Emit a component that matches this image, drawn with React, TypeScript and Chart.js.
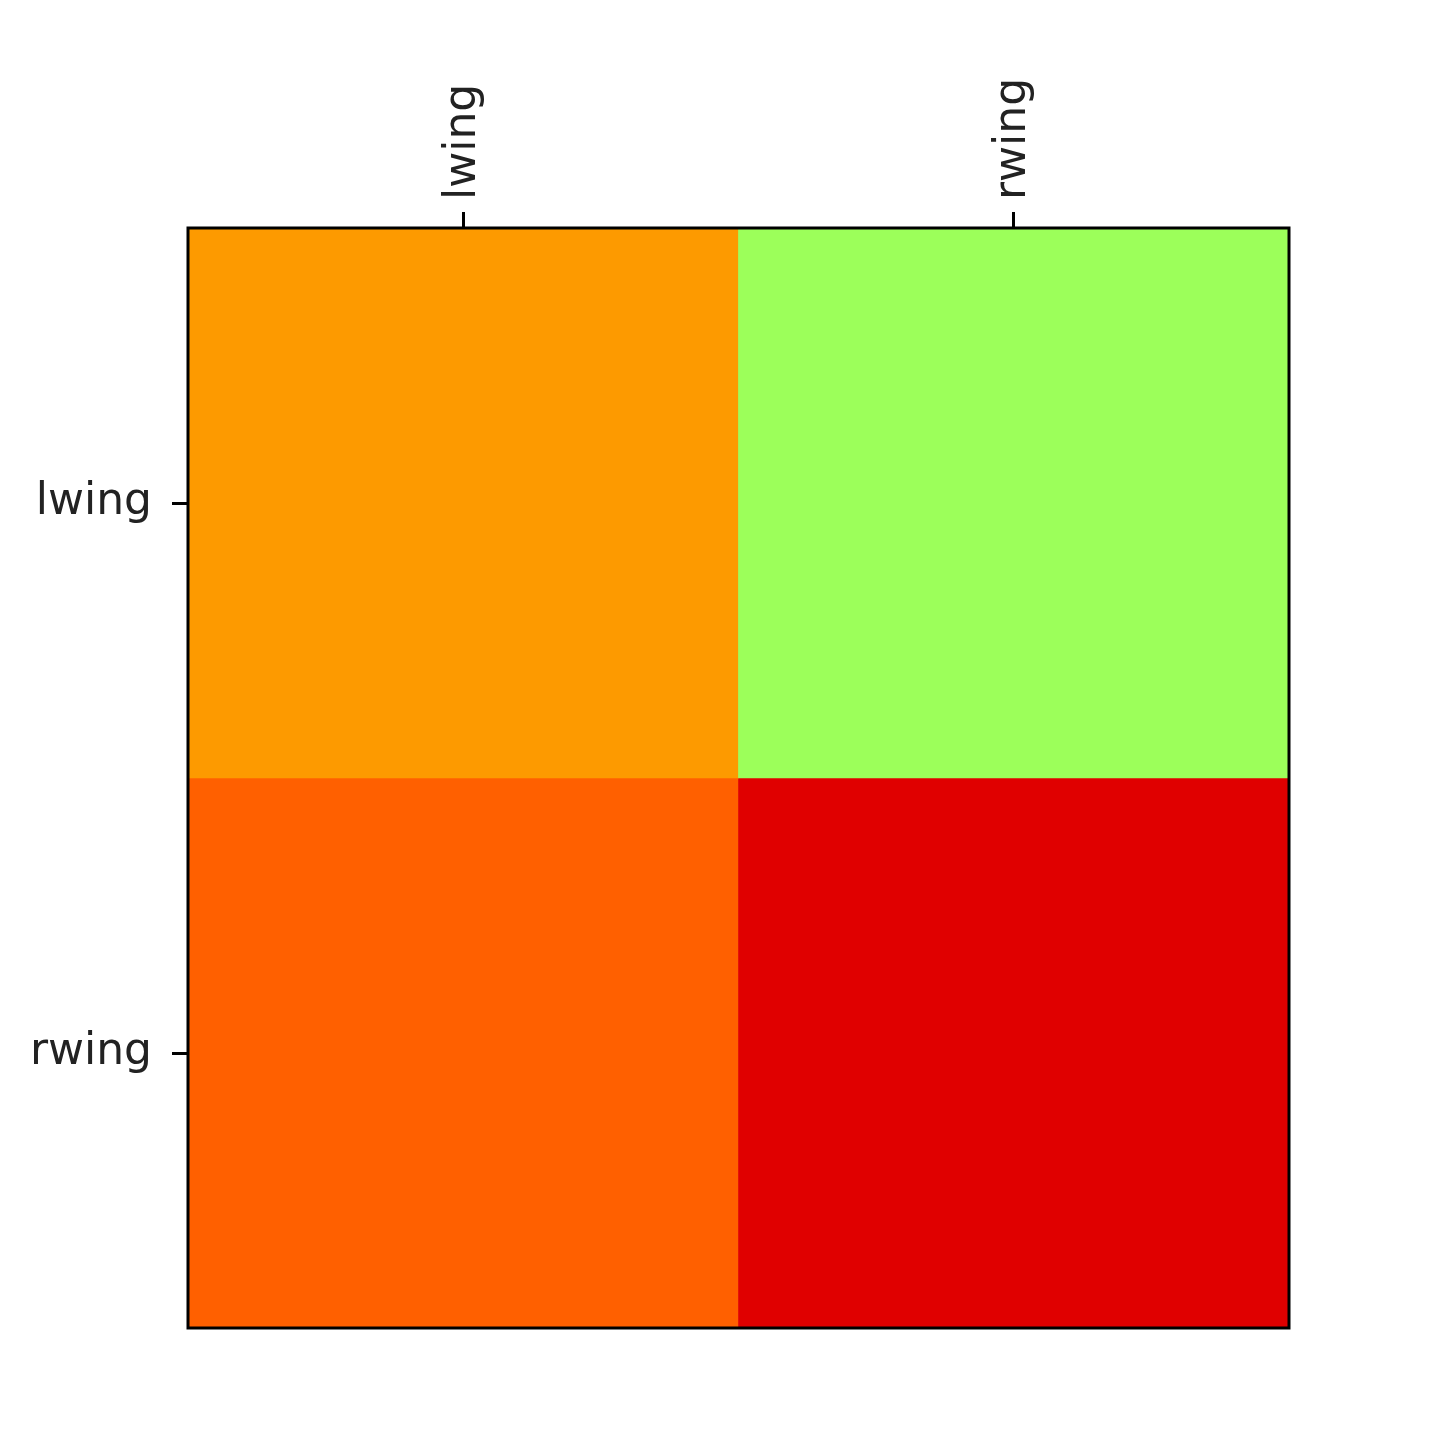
import React, { useEffect, useRef } from "react";
import { Chart, registerables } from "chart.js";

Chart.register(...registerables);

const categories = ["lwing", "rwing"];
// cell colours, row by row (top row = lwing, bottom row = rwing)
const rowLwingColors = ["#FD9A00", "#9CFF5A"];
const rowRwingColors = ["#FF6000", "#E00000"];

const framePlugin = {
  id: "frame",
  afterDatasetsDraw(chart: any) {
    const { ctx, chartArea } = chart;
    ctx.save();
    ctx.strokeStyle = "#000";
    ctx.lineWidth = 3;
    ctx.strokeRect(chartArea.left, chartArea.top, chartArea.right - chartArea.left, chartArea.bottom - chartArea.top);
    ctx.restore();
  },
};

export default function App() {
  const ref = useRef<HTMLCanvasElement | null>(null);
  useEffect(() => {
    if (!ref.current) return;
    const font = { family: "DejaVu Sans", size: 44 };
    const chart = new Chart(ref.current, {
      type: "bar",
      data: {
        labels: categories,
        datasets: [
          {
            label: categories[0],
            data: categories.map(() => [0, 1]) as any,
            backgroundColor: rowLwingColors,
            borderWidth: 0,
            grouped: false,
            barPercentage: 1,
            categoryPercentage: 1,
          } as any,
          {
            label: categories[1],
            data: categories.map(() => [1, 2]) as any,
            backgroundColor: rowRwingColors,
            borderWidth: 0,
            grouped: false,
            barPercentage: 1,
            categoryPercentage: 1,
          } as any,
        ],
      },
      options: {
        animation: false,
        responsive: false,
        maintainAspectRatio: false,
        layout: { padding: { left: 0, top: 0, right: 146, bottom: 107 } },
        plugins: { legend: { display: false }, tooltip: { enabled: false } },
        scales: {
          x: {
            type: "category",
            position: "top",
            offset: true,
            grid: { display: true, drawOnChartArea: false, drawTicks: true, tickLength: 16, color: "#000", lineWidth: 3, offset: false },
            border: { display: false },
            ticks: { font, color: "#222", maxRotation: 90, minRotation: 90, padding: 12, labelOffset: 53 },
            afterFit(scale: any) {
              scale.height = 228;
            },
          },
          y: {
            type: "linear",
            min: 0,
            max: 2,
            reverse: true,
            grid: { display: true, drawOnChartArea: false, drawTicks: true, tickLength: 16, color: "#000", lineWidth: 3 },
            border: { display: false },
            afterBuildTicks(scale: any) {
              scale.ticks = [{ value: 0.5 }, { value: 1.5 }];
            },
            ticks: {
              font,
              color: "#222",
              padding: 20,
              callback: (v: any) => (v === 0.5 ? categories[0] : v === 1.5 ? categories[1] : ""),
            },
            afterFit(scale: any) {
              scale.width = 188;
            },
          },
        },
      } as any,
      plugins: [framePlugin],
    });
    return () => chart.destroy();
  }, []);
  return (
    <div style={{ position: "fixed", left: 0, top: 0, width: 1435, height: 1435, background: "#fff" }}>
      <canvas ref={ref} width={1435} height={1435} />
    </div>
  );
}
